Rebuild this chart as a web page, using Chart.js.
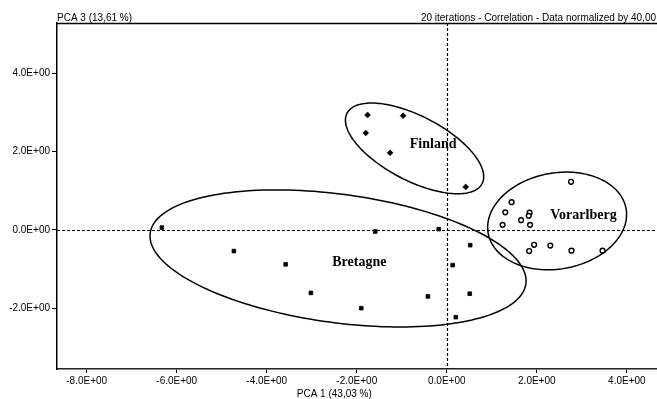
<!DOCTYPE html>
<html>
<head>
<meta charset="utf-8">
<script src="https://cdn.jsdelivr.net/npm/chart.js@4.4.1/dist/chart.umd.min.js"></script>
<style>
  html, body { margin: 0; padding: 0; background: #fff; }
  #c { display: block; }
</style>
</head>
<body>
<canvas id="c" width="657" height="399"></canvas>
<script>
// ---- data ----
const finlandX = [-1.76, -0.97, -1.80, -1.26, 0.42];
const finlandY = [2.94, 2.92, 2.48, 1.97, 1.10];

const vorarlbergX = [2.76, 1.44, 1.30, 1.84, 1.82, 1.65, 1.85, 1.24, 1.94, 1.83, 2.30, 2.77, 3.46];
const vorarlbergY = [1.23, 0.71, 0.45, 0.44, 0.36, 0.25, 0.13, 0.13, -0.38, -0.54, -0.40, -0.53, -0.53];

const bretagneX = [-6.33, -4.73, -3.58, -3.02, -1.59, -0.18, 0.52, 0.13, -0.42, 0.51, -1.90, 0.20];
const bretagneY = [0.06, -0.54, -0.88, -1.61, -0.04, 0.02, -0.39, -0.90, -1.70, -1.63, -2.00, -2.23];

// group ellipses in data units: centre, first semi-axis vector, second semi-axis vector
const finlandEllipse    = [[-0.716, 2.084], [1.500, -0.900], [-0.331, -0.731]];
const vorarlbergEllipse = [[2.451, 0.230], [1.532, 0.312], [0.185, -1.209]];
const bretagneEllipse   = [[-2.416, -0.729], [4.173, -0.650], [-0.191, -1.627]];

const groupNames  = ['Finland', 'Vorarlberg', 'Bretagne'];
const groupLabelX = [-0.304, 3.036, -1.944];
const groupLabelY = [2.09, 0.274, -0.921];

const xTickValues = [-8, -6, -4, -2, 0, 2, 4];
const xTickLabels = ['-8.0E+00', '-6.0E+00', '-4.0E+00', '-2.0E+00', '0.0E+00', '2.0E+00', '4.0E+00'];
const yTickValues = [-2, 0, 2, 4];
const yTickLabels = ['-2.0E+00', '0.0E+00', '2.0E+00', '4.0E+00'];

const xAxisTitle = 'PCA 1 (43,03 %)';
const yAxisTitle = 'PCA 3 (13,61 %)';
const infoText   = '20 iterations - Correlation - Data normalized by 40,00';

// ---- helpers ----
const zip = (xs, ys) => xs.map((x, i) => ({ x: x, y: ys[i] }));

const overlay = {
  id: 'overlay',
  beforeDatasetsDraw(chart) {
    const ctx = chart.ctx, a = chart.chartArea;
    const xs = chart.scales.x, ys = chart.scales.y;
    ctx.save();
    // top frame line
    ctx.strokeStyle = '#000';
    ctx.lineWidth = 1.5;
    ctx.beginPath();
    ctx.moveTo(a.left, a.top + 0.5);
    ctx.lineTo(a.right, a.top + 0.5);
    ctx.stroke();
    // dashed zero lines
    ctx.lineWidth = 1.2;
    ctx.setLineDash([3, 2]);
    const x0 = Math.round(xs.getPixelForValue(0)) + 0.5;
    const y0 = Math.round(ys.getPixelForValue(0)) + 0.5;
    ctx.beginPath();
    ctx.moveTo(x0, a.top); ctx.lineTo(x0, a.bottom);
    ctx.moveTo(a.left, y0); ctx.lineTo(a.right, y0);
    ctx.stroke();
    ctx.setLineDash([]);
    // ellipses
    ctx.lineWidth = 1.5;
    [finlandEllipse, vorarlbergEllipse, bretagneEllipse].forEach(e => {
      const c = e[0], u = e[1], v = e[2];
      ctx.beginPath();
      for (let k = 0; k <= 180; k++) {
        const t = k / 180 * Math.PI * 2;
        const dx = c[0] + u[0] * Math.cos(t) + v[0] * Math.sin(t);
        const dy = c[1] + u[1] * Math.cos(t) + v[1] * Math.sin(t);
        const px = xs.getPixelForValue(dx), py = ys.getPixelForValue(dy);
        if (k === 0) ctx.moveTo(px, py); else ctx.lineTo(px, py);
      }
      ctx.closePath();
      ctx.stroke();
    });
    ctx.restore();
  },
  afterDatasetsDraw(chart) {
    const ctx = chart.ctx;
    const xs = chart.scales.x, ys = chart.scales.y;
    ctx.save();
    ctx.fillStyle = '#000';
    ctx.font = 'bold 14px "Liberation Serif", "Times New Roman", serif';
    ctx.textAlign = 'center';
    ctx.textBaseline = 'alphabetic';
    groupNames.forEach((n, i) => {
      ctx.fillText(n, xs.getPixelForValue(groupLabelX[i]), ys.getPixelForValue(groupLabelY[i]));
    });
    ctx.restore();
  },
  afterDraw(chart) {
    const ctx = chart.ctx, a = chart.chartArea;
    const xs = chart.scales.x;
    ctx.save();
    ctx.fillStyle = '#000';
    ctx.font = '10px "Liberation Sans", Arial, sans-serif';
    ctx.textBaseline = 'alphabetic';
    ctx.textAlign = 'left';
    ctx.fillText(yAxisTitle, a.left, a.top - 2);
    ctx.textAlign = 'right';
    ctx.fillText(infoText, chart.width - 1, a.top - 2);
    ctx.textAlign = 'center';
    ctx.fillText(xAxisTitle, xs.getPixelForValue(-2.5), chart.height - 2);
    ctx.restore();
  }
};

Chart.defaults.font.family = '"Liberation Sans", Arial, sans-serif';
Chart.defaults.font.size = 10;
Chart.defaults.color = '#000';

new Chart(document.getElementById('c'), {
  type: 'scatter',
  data: {
    datasets: [
      {
        label: 'Finland',
        data: zip(finlandX, finlandY),
        pointStyle: 'rectRot',
        pointRadius: 3,
        backgroundColor: '#000',
        borderColor: '#000',
        borderWidth: 0.5
      },
      {
        label: 'Vorarlberg',
        data: zip(vorarlbergX, vorarlbergY),
        pointStyle: 'circle',
        pointRadius: 2.4,
        backgroundColor: '#fff',
        borderColor: '#000',
        borderWidth: 1.4
      },
      {
        label: 'Bretagne',
        data: zip(bretagneX, bretagneY),
        pointStyle: 'rect',
        pointRadius: 2.6,
        backgroundColor: '#000',
        borderColor: '#000',
        borderWidth: 0.8
      }
    ]
  },
  options: {
    responsive: false,
    animation: false,
    devicePixelRatio: 1,
    layout: { autoPadding: false, padding: { top: 23, left: 0, right: 0, bottom: 0 } },
    plugins: { legend: { display: false }, tooltip: { enabled: false } },
    scales: {
      x: {
        type: 'linear',
        min: -8.66,
        max: 4.67,
        afterBuildTicks: s => { s.ticks = xTickValues.map(v => ({ value: v })); },
        afterFit: s => { s.height = 30; s.paddingLeft = 0; s.paddingRight = 0; },
        ticks: {
          autoSkip: false,
          maxRotation: 0,
          padding: 2,
          color: '#000',
          callback: v => xTickLabels[xTickValues.indexOf(v)]
        },
        grid: { drawOnChartArea: false, drawTicks: true, tickLength: 4, color: '#000', lineWidth: 1 },
        border: { display: true, color: '#222', width: 1.5 }
      },
      y: {
        type: 'linear',
        min: -3.555,
        max: 5.29,
        afterBuildTicks: s => { s.ticks = yTickValues.map(v => ({ value: v })); },
        afterFit: s => { s.width = 57; s.paddingTop = 0; s.paddingBottom = 0; },
        ticks: {
          autoSkip: false,
          padding: 2,
          color: '#000',
          callback: v => yTickLabels[yTickValues.indexOf(v)]
        },
        grid: { drawOnChartArea: false, drawTicks: true, tickLength: 5, color: '#000', lineWidth: 1 },
        border: { display: true, color: '#000', width: 1.5 }
      }
    }
  },
  plugins: [overlay]
});
</script>
</body>
</html>
